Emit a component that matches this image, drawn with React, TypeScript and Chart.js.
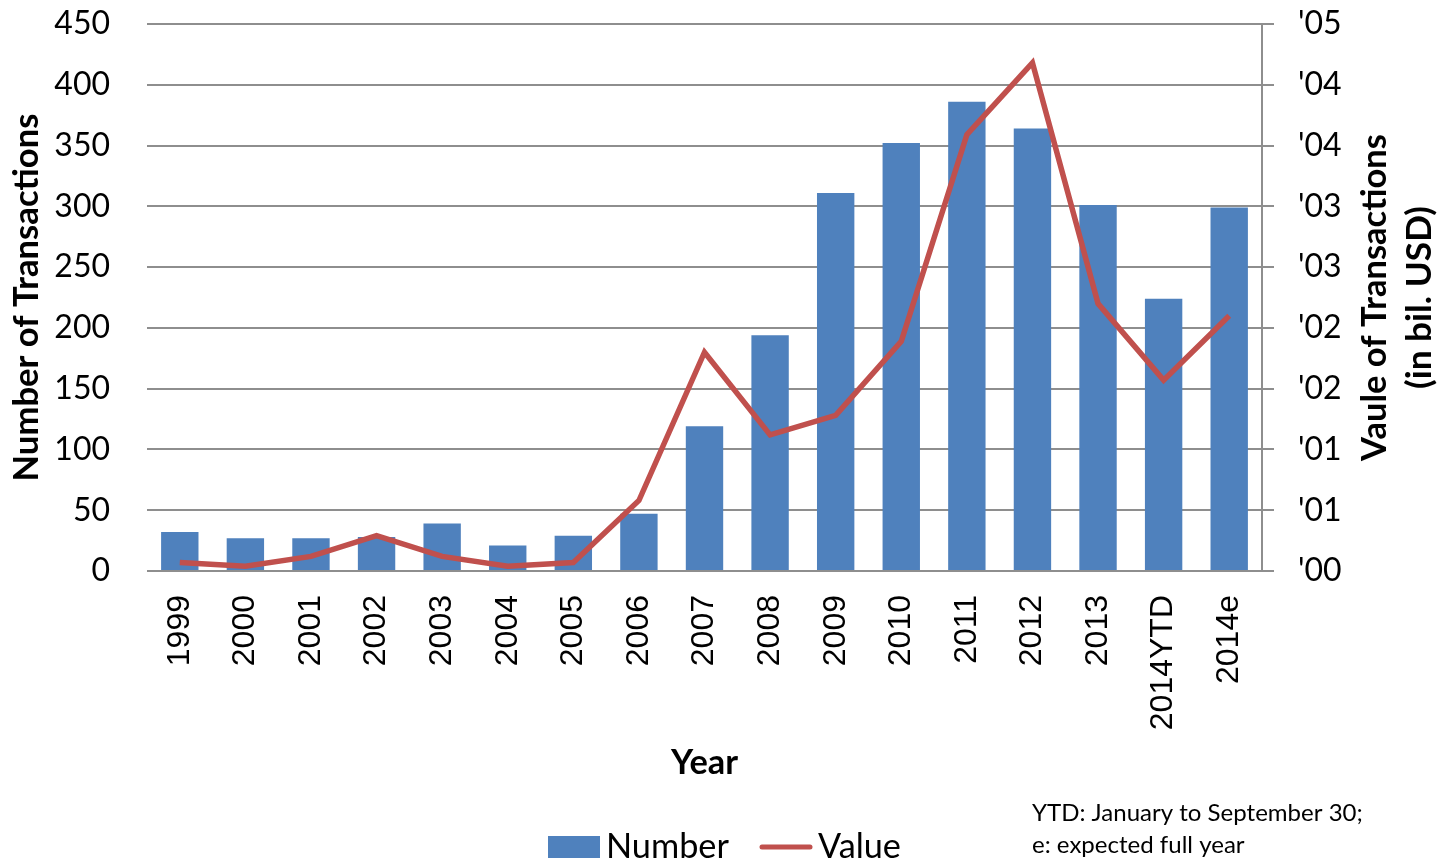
import React, { useEffect, useRef } from "react";
import { Chart, registerables } from "chart.js";

Chart.register(...registerables);

const categories = ["1999", "2000", "2001", "2002", "2003", "2004", "2005", "2006", "2007", "2008", "2009", "2010", "2011", "2012", "2013", "2014YTD", "2014e"];
const numberValues = [32, 27, 27, 28, 39, 21, 29, 47, 119, 194, 311, 352, 386, 364, 301, 224, 299];
const valueValues = [0.07, 0.04, 0.12, 0.29, 0.12, 0.04, 0.07, 0.58, 1.8, 1.12, 1.28, 1.89, 3.59, 4.18, 2.2, 1.57, 2.1];
const rightTickLabels = ["'00", "'01", "'01", "'02", "'02", "'03", "'03", "'04", "'04", "'05"];
const leftTitle = "Number of Transactions";
const rightTitle = ["Vaule of Transactions", "(in bil. USD)"];
const xTitle = "Year";
const legendLabels = ["Number", "Value"];
const footnote = ["YTD: January to September 30;", "e: expected full year"];

const BLUE = "#4F81BD";
const RED = "#C0504D";
const GRID = "#8e8e8e";
const CAL = "Lato, 'Open Sans', sans-serif";

function fitFont(ctx: CanvasRenderingContext2D, text: string, width: number, weight: string) {
  ctx.font = `${weight} 100px ${CAL}`;
  const w = ctx.measureText(text).width;
  const size = (100 * width) / w;
  return `${weight} ${size}px ${CAL}`;
}

const decorPlugin = {
  id: "decor",
  afterDraw(chart: any) {
    const ctx: CanvasRenderingContext2D = chart.ctx;
    const area = chart.chartArea;
    const midY = (area.top + area.bottom) / 2;
    ctx.save();
    ctx.fillStyle = "#000";
    ctx.textAlign = "center";
    ctx.textBaseline = "middle";

    // left title
    ctx.save();
    ctx.translate(27, midY);
    ctx.rotate(-Math.PI / 2);
    ctx.font = fitFont(ctx, leftTitle, 368, "bold");
    ctx.fillText(leftTitle, 0, 0);
    ctx.restore();

    // right title (two lines, reading bottom-to-top)
    const rx = [1375, 1420];
    const rw = [327, 183];
    rightTitle.forEach((t, i) => {
      ctx.save();
      ctx.translate(rx[i], midY);
      ctx.rotate(-Math.PI / 2);
      ctx.font = fitFont(ctx, t, rw[i], "bold");
      ctx.fillText(t, 0, 0);
      ctx.restore();
    });

    // x title
    ctx.font = fitFont(ctx, xTitle, 67, "bold");
    ctx.fillText(xTitle, (area.left + area.right) / 2, 763);

    // legend
    ctx.fillStyle = BLUE;
    ctx.fillRect(548, 836, 52, 22);
    ctx.fillStyle = "#000";
    ctx.textAlign = "left";
    ctx.font = fitFont(ctx, legendLabels[0], 123, "normal");
    ctx.fillText(legendLabels[0], 606, 847);
    ctx.strokeStyle = RED;
    ctx.lineWidth = 5;
    ctx.lineCap = "round";
    ctx.beginPath();
    ctx.moveTo(762, 847);
    ctx.lineTo(810, 847);
    ctx.stroke();
    ctx.font = fitFont(ctx, legendLabels[1], 83, "normal");
    ctx.fillText(legendLabels[1], 818, 847);

    // footnote
    ctx.font = fitFont(ctx, footnote[0], 331, "normal");
    ctx.fillText(footnote[0], 1032, 813);
    ctx.fillText(footnote[1], 1032, 845);
    ctx.restore();
  },
};

export default function App() {
  const ref = useRef<HTMLCanvasElement | null>(null);
  useEffect(() => {
    if (!ref.current) return;
    const chart = new Chart(ref.current, {
      type: "bar",
      data: {
        labels: categories,
        datasets: [
          {
            type: "line",
            label: legendLabels[1],
            data: valueValues,
            yAxisID: "y1",
            borderColor: RED,
            backgroundColor: RED,
            borderWidth: 5.5,
            pointRadius: 0,
            tension: 0,
            order: 0,
          } as any,
          {
            type: "bar",
            label: legendLabels[0],
            data: numberValues,
            yAxisID: "y",
            backgroundColor: BLUE,
            borderWidth: 0,
            barPercentage: 0.57,
            categoryPercentage: 1,
            order: 1,
          } as any,
        ],
      },
      options: {
        responsive: false,
        animation: false,
        layout: { padding: { top: 24, left: 0, right: 0, bottom: 0 } },
        plugins: { legend: { display: false }, tooltip: { enabled: false } },
        scales: {
          x: {
            type: "category",
            offset: true,
            grid: { display: false, drawTicks: false },
            border: { display: false },
            ticks: {
              autoSkip: false,
              minRotation: 90,
              maxRotation: 90,
              padding: 24,
              color: "#000",
              font: { family: "'Liberation Sans', Arial, sans-serif", size: 32 },
            },
            afterFit: (s: any) => {
              s.height = 862 - 571;
              s.paddingLeft = 0;
              s.paddingRight = 0;
              s.paddingTop = 0;
              s.paddingBottom = 0;
            },
          },
          y: {
            position: "left",
            min: 0,
            max: 450,
            ticks: {
              stepSize: 50,
              padding: 37,
              color: "#000",
              font: { family: CAL, size: 32 },
            },
            grid: { color: GRID, lineWidth: 2, drawTicks: false },
            border: { display: false },
            afterFit: (s: any) => {
              s.width = 147;
              s.paddingTop = 0;
              s.paddingBottom = 0;
              s.paddingLeft = 0;
              s.paddingRight = 0;
            },
          },
          y1: {
            position: "right",
            min: 0,
            max: 4.5,
            ticks: {
              stepSize: 0.5,
              padding: 24,
              color: "#000",
              font: { family: CAL, size: 32 },
              callback: (_v: any, i: number) => rightTickLabels[i],
            },
            grid: { drawOnChartArea: false, drawTicks: true, tickLength: 12, color: GRID, lineWidth: 2 },
            border: { display: true, color: GRID, width: 2 },
            afterFit: (s: any) => {
              s.width = 1443 - 1262;
              s.paddingTop = 0;
              s.paddingBottom = 0;
              s.paddingLeft = 0;
              s.paddingRight = 0;
            },
          },
        },
      },
      plugins: [decorPlugin],
    });
    return () => chart.destroy();
  }, []);
  return (
    <div style={{ position: "absolute", left: 0, top: 0, width: 1443, height: 862, background: "#fff" }}>
      <canvas ref={ref} width={1443} height={862} style={{ display: "block" }} />
    </div>
  );
}
